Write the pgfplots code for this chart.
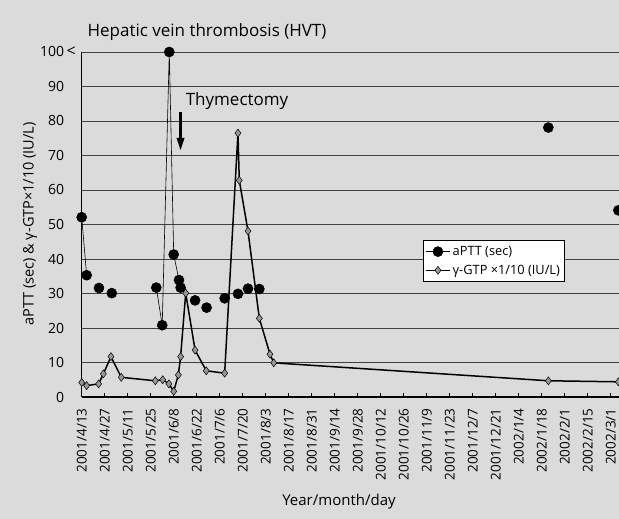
\documentclass[border=0pt]{standalone}
\usepackage{pgfplots}
\pgfplotsset{compat=1.18}
\usepackage{fontspec}
\setmainfont{Open Sans}
\definecolor{bg}{RGB}{219,219,220}
\definecolor{dia}{RGB}{150,150,150}
\begin{document}
\begin{tikzpicture}[x=1bp,y=1bp]
\fill[bg] (0,0) rectangle (619,519);
\useasboundingbox (0,0) rectangle (619,519);
\begin{axis}[
  at={(81.7bp,122bp)}, anchor=south west,
  scale only axis, width=537.3bp, height=345bp,
  xmin=0, xmax=327, ymin=0, ymax=100,
  clip=false,
  unbounded coords=jump,
  axis x line=bottom, axis y line=left,
  axis line style={-, line width=1.2bp},
  ytick={0,10,...,100},
  yticklabels={0,10,20,30,40,50,60,70,80,90,100\rlap{\,{\fontsize{16bp}{16bp}\selectfont<}}},
  ymajorgrids, grid style={black!75, line width=0.8bp},
  ytick style={draw=none},
  yticklabel shift=14bp,
  xtick={0,14,...,322},
  xticklabels={2001/4/13,2001/4/27,2001/5/11,2001/5/25,2001/6/8,2001/6/22,2001/7/6,2001/7/20,2001/8/3,2001/8/17,2001/8/31,2001/9/14,2001/9/28,2001/10/12,2001/10/26,2001/11/9,2001/11/23,2001/12/7,2001/12/21,2002/1/4,2002/1/18,2002/2/1,2002/2/15,2002/3/1},
  x tick label style={rotate=90, anchor=east, font=\fontsize{13.5bp}{15bp}\selectfont},
  xticklabel shift=8bp,
  y tick label style={font=\fontsize{14bp}{16bp}\selectfont},
  xtick style={black, line width=0.8bp},
  major tick length=4bp,
  tick align=inside,
  legend style={at={(0.635,0.455)}, anchor=north west, draw=black, fill=white,
    font=\fontsize{12.8bp}{16bp}\selectfont, line width=0.6bp, inner xsep=2bp, inner ysep=4bp, row sep=4bp},
  legend cell align=left,
  legend image code/.code={\draw[mark repeat=2,mark phase=2,#1] plot coordinates {(0bp,0bp) (12bp,0bp) (24bp,0bp)};},
]
\addplot[black, line width=0.6bp, mark=*, mark size=5bp, mark options={fill=black, solid}]
coordinates {
(0,52.1)(3,35.3)(4,nan)
(10.5,31.6)(11,nan)
(18.3,30.1)(19,nan)
(45.4,31.7)(49,20.8)(53.3,100)(56,41.3)(59.2,33.9)(60.2,31.7)(61,nan)
(69,28)(70,nan)
(76,25.9)(77,nan)
(87,28.6)(88,nan)
(95.1,29.9)(96,nan)
(101.2,31.4)(102,nan)
(108.1,31.3)(109,nan)
(284,78.1)(285,nan)
(326.6,54.1)
};
\addlegendentry{aPTT (sec)}
\addplot[black, line width=1.5bp, mark=diamond*, mark size=4bp, mark options={fill=dia, draw=black, line width=0.5bp}]
coordinates {
(0,4.2)(3,3.3)(10.3,3.8)(13.2,6.7)(17.8,11.7)(24.1,5.7)(44.8,4.7)(49.3,5.0)(53.1,3.8)(56,1.65)(58.8,6.4)(60.2,11.7)(63.3,30.1)(69,13.6)(75.8,7.6)(87,6.9)(95.1,76.5)(95.9,62.8)(101.2,48.1)(108.1,22.8)(114.6,12.4)(116.9,9.9)(284,4.7)(326.6,4.4)
};
\addlegendentry{γ-GTP ×1/10 (IU/L)}
\end{axis}
\node[font=\fontsize{17bp}{20bp}\selectfont] at (207,487) {Hepatic vein thrombosis (HVT)};
\node[font=\fontsize{17bp}{20bp}\selectfont] at (237,418) {Thymectomy};
\draw[line width=3bp] (180.5,407) -- (180.5,380);
\fill (176.5,381) -- (184.5,381) -- (180.5,369) -- cycle;
\node[rotate=90, font=\fontsize{14.5bp}{16bp}\selectfont] at (30,295) {aPTT (sec) \& γ-GTP×1/10 (IU/L)};
\node[font=\fontsize{15bp}{17bp}\selectfont] at (339,17) {Year/month/day};
\end{tikzpicture}
\end{document}
